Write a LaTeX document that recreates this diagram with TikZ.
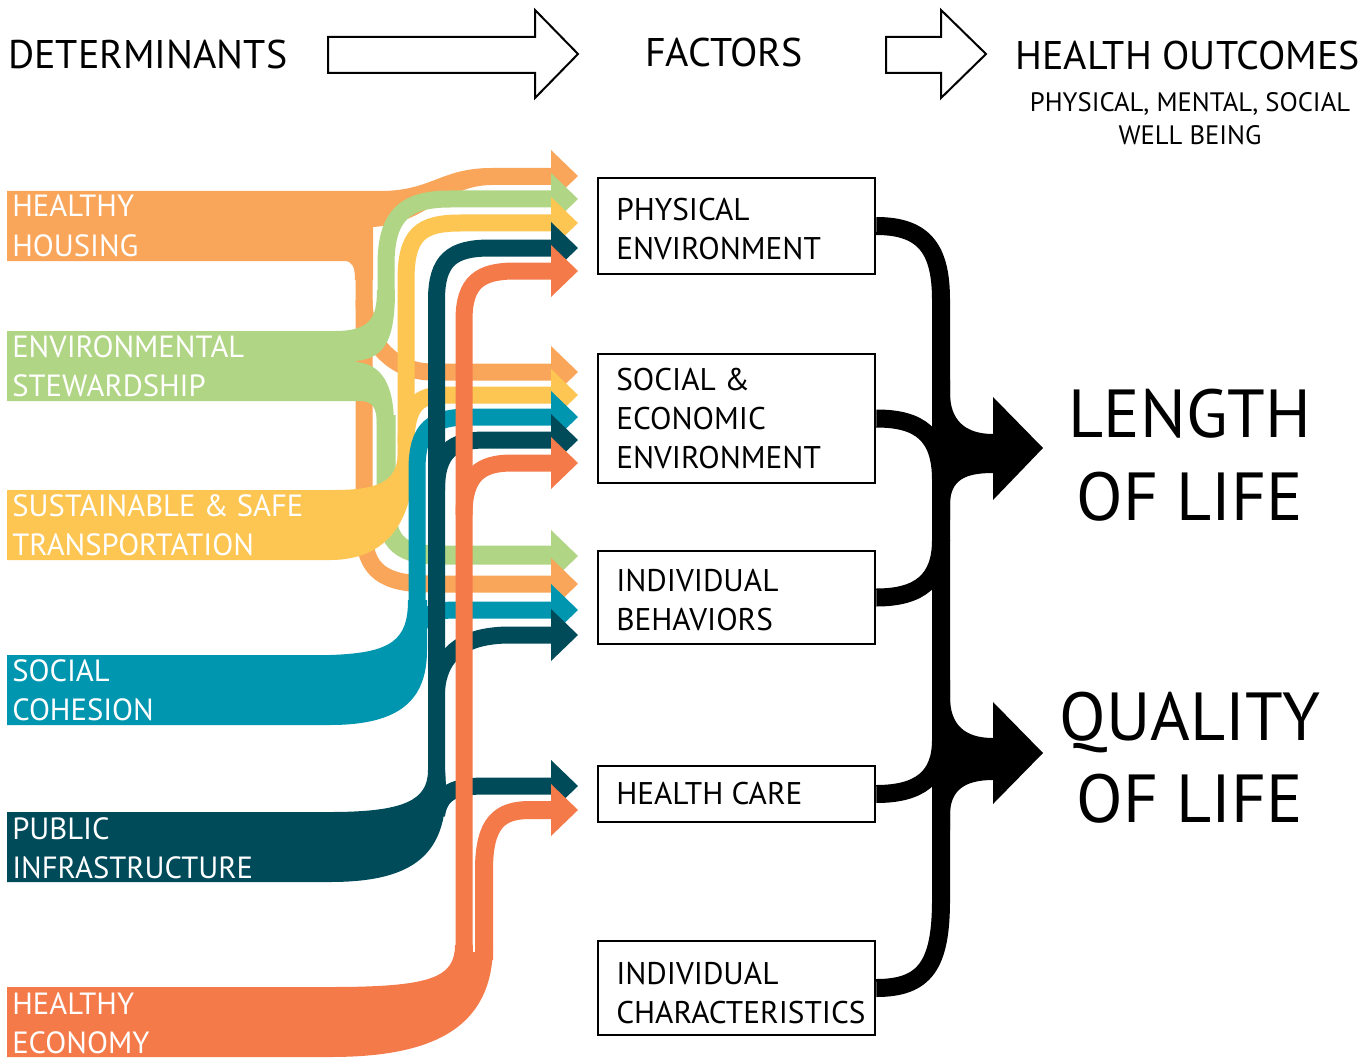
\documentclass[tikz,border=0pt]{standalone}
\usepackage{fontspec}
\setmainfont{PT Sans}
\definecolor{cOr}{HTML}{F9A65A}
\definecolor{cGr}{HTML}{B0D584}
\definecolor{cYe}{HTML}{FDC652}
\definecolor{cTe}{HTML}{0096B0}
\definecolor{cDk}{HTML}{004B5A}
\definecolor{cCo}{HTML}{F47A4A}
\newcommand\arhd[2]{\fill[#1] (551,#2-26) -- (578,#2) -- (551,#2+26) -- cycle;}
\begin{document}
\begin{tikzpicture}[x=0.75pt,y=-0.75pt,
  band/.style={line width=12.75pt},
  lbl/.style={text=white,font=\fontsize{23}{28}\selectfont,anchor=base west,inner sep=0},
  btxt/.style={text=black,font=\fontsize{23.5}{28}\selectfont,anchor=base west,inner sep=0},
  hdr/.style={font=\fontsize{30}{36}\selectfont,anchor=base west,inner sep=0},
  subh/.style={font=\fontsize{20}{24}\selectfont,anchor=base,inner sep=0},
  bigt/.style={font=\fontsize{51}{60}\selectfont,anchor=base,inner sep=0},
  fbox/.style={draw=black,line width=2pt,inner sep=0,minimum width=207.75pt},
  blk/.style={line width=13.5pt,black},
  hollow/.style={draw=black,line width=1.5pt,fill=white}]
\useasboundingbox (0,0) rectangle (1369,1059);
\fill[white] (0,0) rectangle (1369,1059);

% header
\node[hdr] (hdet) at (8,69) {DETERMINANTS};
\node[hdr] (hfac) at (645,67) {FACTORS};
\node[hdr] (hout) at (1015,70) {HEALTH OUTCOMES};
\node[subh] (hsub1) at (1190,112) {PHYSICAL, MENTAL, SOCIAL};
\node[subh] (hsub2) at (1190,145) {WELL BEING};
\draw[hollow] (328,37) -- (535,37) -- (535,10) -- (578,54) -- (535,98) -- (535,73) -- (328,73) -- cycle;
\draw[hollow] (886,37) -- (941,37) -- (941,10) -- (986,54) -- (941,98) -- (941,73) -- (886,73) -- cycle;

% ORANGE - healthy housing
\fill[cOr] (7,191) -- (380,191) .. controls (432,191) and (440,168) .. (492,168) -- (551,168) -- (551,185) -- (492,185) .. controls (445,185) and (425,224) .. (373,227) -- (373,280) -- (355,280) .. controls (355,266) and (352,261) .. (344,261) -- (7,261) -- cycle;
\draw[band,cOr] (364,270) -- (364,530) .. controls (364,572) and (385,584) .. (430,584) -- (551,584);
\draw[band,cOr] (364,300) .. controls (364,340) and (392,372) .. (432,372) -- (551,372);

% GREEN - environmental stewardship
\fill[cGr] (7,331) -- (335,331) .. controls (370,331) and (377,318) .. (377,290) -- (395,290) .. controls (395,340) and (385,358) .. (356,361) -- (356,362) .. controls (382,364) and (394,385) .. (394,425) -- (377,425) .. controls (377,407) and (372,401) .. (360,401) -- (7,401) -- cycle;
\draw[band,cGr] (386,300) -- (386,265) .. controls (386,215) and (405,199) .. (450,199) -- (551,199);
\draw[line width=14.25pt,cGr] (386,415) -- (386,505) .. controls (386,545) and (403,555) .. (440,555) -- (551,555);

% YELLOW - transportation
\fill[cYe] (7,490) -- (335,490) .. controls (385,490) and (398,478) .. (398,450) -- (415,450) .. controls (415,525) and (385,560) .. (330,560) -- (7,560) -- cycle;
\draw[band,cYe] (406,470) -- (406,280) .. controls (406,235) and (420,223) .. (460,223) -- (551,223);
\draw[band,cYe] (406,445) .. controls (406,405) and (418,395) .. (445,395) -- (551,395);

% TEAL - social cohesion
\fill[cTe] (7,655) -- (330,655) .. controls (392,653) and (408,640) .. (408,600) -- (427,600) -- (427,650) .. controls (427,700) and (400,725) .. (330,725) -- (7,725) -- cycle;
\draw[band,cTe] (417,620) -- (417,470) .. controls (417,428) and (432,417) .. (470,417) -- (551,417);
\draw[band,cTe] (417,640) .. controls (417,618) and (428,610) .. (455,610) -- (551,610);

% DARK TEAL - public infrastructure
\fill[cDk] (7,812) -- (330,812) .. controls (405,812) and (428,800) .. (428,770) -- (445,770) .. controls (452,850) and (420,882) .. (330,882) -- (7,882) -- cycle;
\draw[band,cDk] (436.5,790) -- (436.5,300) .. controls (436.5,260) and (452,248) .. (490,248) -- (551,248);
\draw[band,cDk] (436.5,490) .. controls (436.5,452) and (452,440) .. (485,440) -- (551,440);
\draw[band,cDk] (436.5,690) .. controls (440,650) and (468,635) .. (510,635) -- (551,635);
\draw[band,cDk] (436.5,815) .. controls (440,792) and (455,786) .. (485,786) -- (551,786);

% CORAL - healthy economy
\fill[cCo] (7,987) -- (330,987) .. controls (430,987) and (455,978) .. (455,945) -- (493,945) .. controls (493,1030) and (430,1057) .. (330,1057) -- (7,1057) -- cycle;
\draw[band,cCo] (464,960) -- (464,320) .. controls (464,282) and (480,271) .. (515,271) -- (551,271);
\draw[band,cCo] (464,515) .. controls (464,475) and (480,463) .. (512,463) -- (551,463);
\draw[line width=13.5pt,cCo] (484,960) -- (484,870) .. controls (484,822) and (500,810) .. (530,810) -- (551,810);
\draw[white,line width=0.8pt] (474,872) -- (474,952);

% arrowheads
\arhd{cOr}{176} \arhd{cGr}{199} \arhd{cYe}{223} \arhd{cDk}{248} \arhd{cCo}{271}
\arhd{cOr}{372} \arhd{cYe}{395} \arhd{cTe}{417} \arhd{cDk}{440} \arhd{cCo}{463}
\arhd{cGr}{556} \arhd{cOr}{584} \arhd{cTe}{610} \arhd{cDk}{635}
\arhd{cDk}{786} \arhd{cCo}{810}

% determinant labels
\node[lbl] (hh1) at (12,217) {HEALTHY};
\node[lbl] (hh2) at (12,256) {HOUSING};
\node[lbl] (es1) at (12,357) {ENVIRONMENTAL};
\node[lbl] (es2) at (12,396) {STEWARDSHIP};
\node[lbl] (st1) at (12,516) {SUSTAINABLE \& SAFE};
\node[lbl] (st2) at (12,555) {TRANSPORTATION};
\node[lbl] (sc1) at (12,681) {SOCIAL};
\node[lbl] (sc2) at (12,720) {COHESION};
\node[lbl] (pi1) at (12,839) {PUBLIC};
\node[lbl] (pi2) at (12,878) {INFRASTRUCTURE};
\node[lbl] (he1) at (12,1014) {HEALTHY};
\node[lbl] (he2) at (12,1053) {ECONOMY};

% factor boxes
\node[fbox,minimum height=72pt] (pe) at (736.5,226) {};
\node[fbox,minimum height=96.75pt] (se) at (736.5,418.5) {};
\node[fbox,minimum height=69.75pt] (ib) at (736.5,597.5) {};
\node[fbox,minimum height=42pt] (hc) at (736.5,794) {};
\node[fbox,minimum height=70.5pt] (ic) at (736.5,988) {};
\node[btxt] (pe1) at (616,220) {PHYSICAL};
\node[btxt] (pe2) at (616,259) {ENVIRONMENT};
\node[btxt] (se1) at (616,390) {SOCIAL \&};
\node[btxt] (se2) at (616,429) {ECONOMIC};
\node[btxt] (se3) at (616,468) {ENVIRONMENT};
\node[btxt] (ib1) at (616,591) {INDIVIDUAL};
\node[btxt] (ib2) at (616,630) {BEHAVIORS};
\node[btxt] (hc1) at (616,804) {HEALTH CARE};
\node[btxt] (ic1) at (616,984) {INDIVIDUAL};
\node[btxt] (ic2) at (616,1023) {CHARACTERISTICS};

% black connectors
\draw[blk] (pe.east) .. controls (925,226) and (941,250) .. (941,300) -- (941,900) .. controls (941,965) and (925,988) .. (ic.east);
\draw[blk] (se.east) .. controls (920,418.5) and (941,435) .. (941,480);
\draw[blk] (ib.east) .. controls (920,597.5) and (941,580) .. (941,540);
\draw[blk] (hc.east) .. controls (920,794) and (941,777) .. (941,740);
\fill[black] (936,380) -- (950,380) -- (950,393) .. controls (950,420) and (965,434) .. (993,434) -- (993,397) -- (1043,448) -- (993,500) -- (993,473) .. controls (965,473) and (950,480) .. (950,505) -- (950,520) -- (936,520) -- cycle;
\fill[black] (936,680) -- (950,680) -- (950,697) .. controls (950,725) and (965,738) .. (993,738) -- (993,702) -- (1043,753) -- (993,804) -- (993,780) .. controls (965,780) and (950,790) .. (950,815) -- (950,830) -- (936,830) -- cycle;

% outcomes
\node[bigt] (len1) at (1190,437) {LENGTH};
\node[bigt] (len2) at (1190,520) {OF LIFE};
\node[bigt] (qua1) at (1190,740) {QUALITY};
\node[bigt] (qua2) at (1190,822) {OF LIFE};
\end{tikzpicture}
\end{document}
